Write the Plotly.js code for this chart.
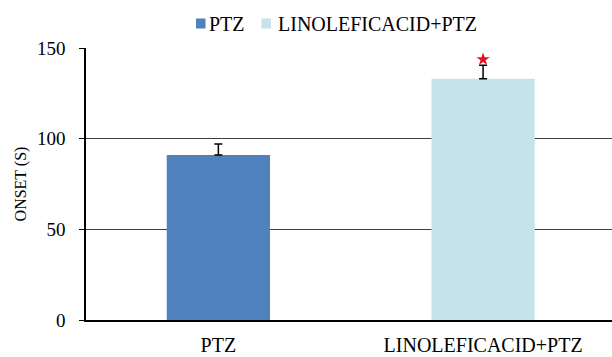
<!DOCTYPE html>
<html>
<head>
<meta charset="utf-8">
<script src="https://cdn.plot.ly/plotly-3.0.1.min.js"></script>
<style>
  html, body { margin: 0; padding: 0; background: #ffffff; font-family: 'Liberation Serif'; }
  #chart { width: 612px; height: 357px; font-family: 'Liberation Serif'; }
</style>
</head>
<body>
<div id="chart"></div>
<script>
// Seizure onset time (s) per treatment group
const categories = ['PTZ', 'LINOLEFICACID+PTZ'];
const onsetMean = [91, 133];
const onsetErr = [6, 7.5];
const groupColors = ['#4F81BD', '#C6E2EA'];
const significant = [false, true];

const FONT = 'Liberation Serif';

// Plot box in pixels, used to place the legend keys above the plot
const W = 612, H = 357;
const M = { l: 86, r: 0, t: 48, b: 37 };
const pw = W - M.l - M.r, ph = H - M.t - M.b;
const px = x => (x - M.l) / pw;
const py = y => (H - M.b - y) / ph;

const bars = {
  type: 'bar',
  x: categories,
  y: onsetMean,
  width: 0.39,
  marker: { color: groupColors, line: { width: 0 } },
  error_y: {
    type: 'data',
    symmetric: false,
    array: onsetErr,
    arrayminus: onsetErr.map(() => 0),
    color: '#000000',
    thickness: 1.5,
    width: 4
  },
  showlegend: false,
  hoverinfo: 'x+y'
};

// Significance star above the error bar
const starX = [], starY = [];
categories.forEach((c, i) => {
  if (significant[i]) { starX.push(c); starY.push(onsetMean[i] + onsetErr[i] + 3.2); }
});
const stars = {
  type: 'scatter',
  mode: 'markers',
  x: starX,
  y: starY,
  marker: { symbol: 'star', size: 10, color: '#E8101E', line: { width: 0 } },
  showlegend: false,
  hoverinfo: 'skip'
};

// Legend keys: small square swatch followed by the group name
const legendKeys = [
  { sq: [196, 205.5], textX: 206.5 },
  { sq: [261.5, 271], textX: 276 }
];
const shapes = legendKeys.map((k, i) => ({
  type: 'rect', xref: 'paper', yref: 'paper',
  x0: px(k.sq[0]), x1: px(k.sq[1]), y0: py(28.5), y1: py(18.5),
  fillcolor: groupColors[i], line: { width: 0 }
}));
const annotations = legendKeys.map((k, i) => ({
  xref: 'paper', yref: 'paper',
  x: px(k.textX), y: py(24.5),
  xanchor: 'left', yanchor: 'middle',
  text: categories[i], showarrow: false,
  font: { family: FONT, size: 20, color: '#000000' }
}));

const layout = {
  width: W, height: H,
  margin: M,
  paper_bgcolor: '#ffffff',
  plot_bgcolor: '#ffffff',
  showlegend: false,
  font: { family: FONT, color: '#000000' },
  xaxis: {
    type: 'category',
    range: [-0.5, 1.487],
    showline: true, linecolor: '#000000', linewidth: 1.5,
    ticks: '', showgrid: false, zeroline: false,
    tickfont: { family: FONT, size: 20, color: '#000000' },
    ticklabelstandoff: 6
  },
  yaxis: {
    range: [0, 150],
    tickvals: [0, 50, 100, 150],
    showgrid: true, gridcolor: '#404040', gridwidth: 1.2,
    zeroline: false,
    showline: true, linecolor: '#000000', linewidth: 1.5,
    ticks: 'outside', ticklen: 5, tickcolor: '#000000', tickwidth: 1.2,
    tickfont: { family: FONT, size: 19, color: '#000000' },
    ticklabelstandoff: 10,
    title: { text: 'ONSET (S)', font: { family: FONT, size: 16, color: '#000000' }, standoff: 6 }
  },
  shapes: shapes,
  annotations: annotations
};

const config = { displayModeBar: false };
const gd = document.getElementById('chart');

function draw() {
  return Plotly.newPlot(gd, [bars, stars], layout, config);
}

// Draw at once, then rebuild once the serif face is available
draw().then(() => {
  gd.setAttribute('data-drawn', '1');
  if (document.fonts && document.fonts.load) {
    document.fonts.load('20px "Liberation Serif"').then(() => {
      draw().then(() => { gd.setAttribute('data-drawn', '2'); });
    }, () => {});
  }
});
</script>
</body>
</html>
